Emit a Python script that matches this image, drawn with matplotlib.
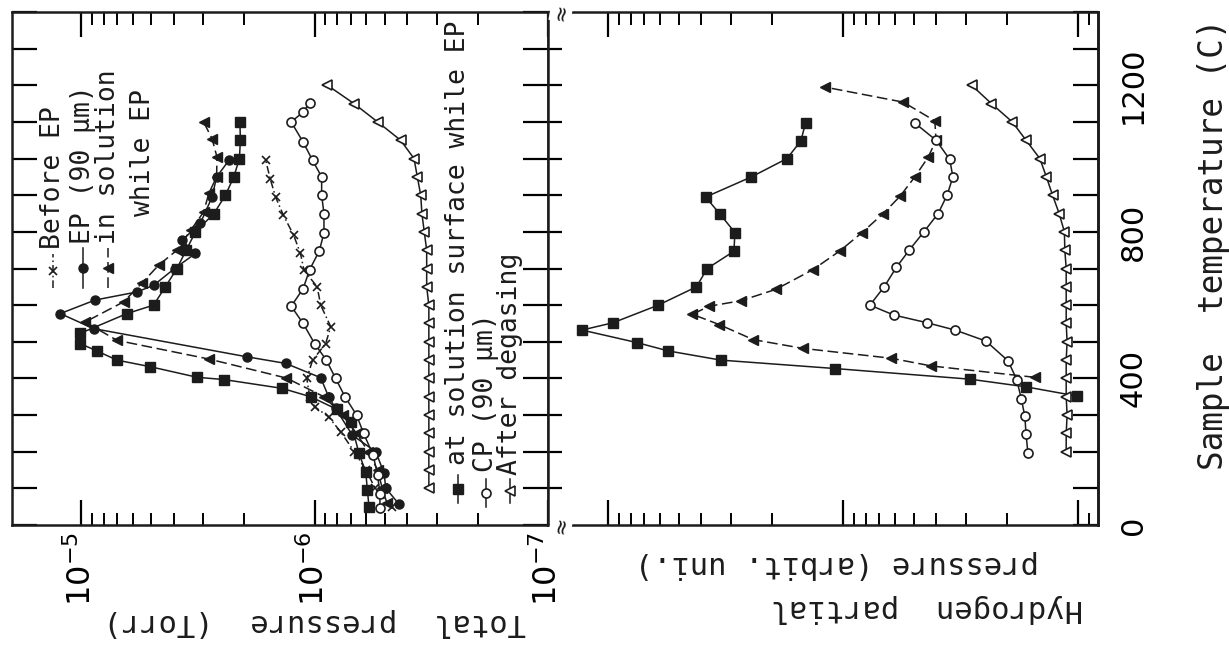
import matplotlib
matplotlib.use("Agg")
import matplotlib.pyplot as plt
from matplotlib.ticker import LogLocator, NullFormatter, FuncFormatter, MultipleLocator

# ---- data (temperature in C) ----
# left panel: total pressure (Torr)
before_t = [50, 100, 150, 200, 254, 295, 323, 350, 400, 450, 495, 541, 600, 650, 695, 741, 791, 845, 895, 945, 995]
before_p = [4.68e-7, 5.50e-7, 6.03e-7, 6.76e-7, 7.73e-7, 8.71e-7, 1.00e-6, 1.05e-6, 1.08e-6, 1.02e-6, 8.97e-7,
            8.53e-7, 9.42e-7, 9.75e-7, 1.11e-6, 1.15e-6, 1.23e-6, 1.36e-6, 1.47e-6, 1.55e-6, 1.62e-6]

ep_t = [57, 100, 143, 200, 245, 318, 350, 402, 441, 459, 536, 577, 614, 636, 654, 700, 741, 777, 823, 895, 950, 995]
ep_p = [4.35e-7, 4.95e-7, 5.05e-7, 5.47e-7, 6.89e-7, 8.13e-7, 8.71e-7, 9.42e-7, 1.33e-6, 1.95e-6, 8.85e-6,
        1.23e-5, 8.71e-6, 5.77e-6, 4.90e-6, 3.98e-6, 3.24e-6, 3.70e-6, 3.09e-6, 2.75e-6, 2.63e-6, 2.33e-6]

sol_t = [60, 100, 150, 200, 250, 300, 350, 401, 453, 504, 554, 609, 660, 709, 750, 804, 854, 905, 950, 1004, 1054, 1100]
sol_p = [4.90e-7, 5.13e-7, 5.37e-7, 5.89e-7, 6.61e-7, 7.59e-7, 9.12e-7, 1.32e-6, 2.84e-6, 7.03e-6, 9.62e-6,
         6.58e-6, 5.50e-6, 4.66e-6, 3.89e-6, 3.40e-6, 2.99e-6, 2.84e-6, 2.63e-6, 2.62e-6, 2.75e-6, 2.99e-6]

surf_t = [50, 95, 145, 196, 282, 316, 350, 373, 397, 403, 432, 450, 475, 495, 523, 577, 600, 650, 700, 750,
          800, 850, 900, 950, 1000, 1050, 1100]
surf_p = [5.85e-7, 5.94e-7, 6.04e-7, 6.46e-7, 7.00e-7, 8.05e-7, 1.04e-6, 1.38e-6, 2.45e-6, 3.18e-6, 5.06e-6,
          7.03e-6, 8.57e-6, 1.01e-5, 1.01e-5, 6.37e-6, 4.90e-6, 4.36e-6, 3.89e-6, 3.55e-6, 3.24e-6, 2.70e-6,
          2.41e-6, 2.22e-6, 2.10e-6, 2.08e-6, 2.09e-6]

cp_t = [46, 85, 136, 192, 250, 300, 350, 400, 450, 495, 550, 597, 645, 697, 748, 797, 850, 900, 950, 995,
        1045, 1100, 1127, 1152]
cp_p = [5.25e-7, 5.25e-7, 5.37e-7, 5.62e-7, 6.17e-7, 6.61e-7, 7.41e-7, 8.13e-7, 8.91e-7, 1.00e-6, 1.12e-6,
        1.26e-6, 1.12e-6, 1.05e-6, 9.55e-7, 9.12e-7, 9.12e-7, 9.33e-7, 9.33e-7, 1.02e-6, 1.12e-6, 1.26e-6,
        1.12e-6, 1.05e-6]

degas_t = [100, 150, 200, 250, 300, 350, 400, 450, 500, 550, 600, 650, 700, 750, 800, 850, 900, 950, 1000,
           1050, 1100, 1150, 1200]
degas_p = [3.24e-7, 3.24e-7, 3.24e-7, 3.24e-7, 3.24e-7, 3.24e-7, 3.24e-7, 3.24e-7, 3.24e-7, 3.24e-7, 3.24e-7,
           3.31e-7, 3.31e-7, 3.31e-7, 3.39e-7, 3.47e-7, 3.51e-7, 3.63e-7, 3.75e-7, 4.28e-7, 5.37e-7, 6.78e-7,
           8.81e-7]

# right panel: hydrogen partial pressure (arbitrary units)
h_surf_t = [352, 377, 398, 427, 450, 475, 498, 532, 552, 600, 650, 700, 747, 798, 848, 895, 950, 1000, 1048, 1098]
h_surf = [1.01, 1.66, 2.88, 10.8, 33.1, 55.3, 75.5, 129, 95.1, 61.1, 42.0, 37.8, 29.1, 28.8, 33.3, 38.4,
          24.5, 17.3, 15.1, 14.4]

h_sol_t = [403, 434, 455, 482, 506, 547, 575, 597, 612, 643, 697, 748, 797, 850, 897, 950, 1003, 1050, 1103,
           1154, 1195]
h_sol = [1.52, 4.20, 6.21, 14.8, 24.1, 33.6, 43.7, 37.1, 27.2, 19.3, 13.4, 10.3, 8.32, 6.73, 5.71, 4.94,
         4.34, 4.01, 4.06, 5.53, 11.9]

h_cp_t = [196, 248, 297, 345, 397, 448, 502, 532, 552, 573, 600, 650, 703, 750, 800, 850, 900, 950, 998,
          1050, 1097]
h_cp = [1.63, 1.66, 1.68, 1.74, 1.82, 1.98, 2.46, 3.33, 4.38, 6.07, 7.67, 6.67, 5.92, 5.22, 4.52, 3.93,
        3.60, 3.40, 3.51, 4.01, 4.94]

h_degas_t = [200, 250, 300, 350, 400, 450, 500, 550, 600, 650, 700, 750, 800, 850, 900, 950, 1000, 1050,
             1100, 1150, 1200]
h_degas = [1.12, 1.12, 1.11, 1.12, 1.12, 1.12, 1.11, 1.12, 1.12, 1.12, 1.12, 1.135, 1.14, 1.20, 1.28, 1.36,
           1.45, 1.66, 1.90, 2.33, 2.83]

temp_labels = [0, 400, 800, 1200]

# ---- styles ----
ink = "#1c1c1c"
mono = "DejaVu Sans Mono"
st_before = dict(marker="x", ms=6, mew=1.2, mfc="none", ls=(0, (5, 2, 1, 2)))
st_ep = dict(marker="o", ms=6.5, mfc=ink, ls="-")
st_sol = dict(marker="<", ms=7, mfc=ink, ls=(0, (7, 3)))
st_surf = dict(marker="s", ms=6.5, mfc=ink, ls="-")
st_cp = dict(marker="o", ms=6.5, mfc="white", mew=1.2, ls="-")
st_degas = dict(marker="<", ms=7.5, mfc="white", mew=1.2, ls="-")

plt.rcParams.update({"font.family": "DejaVu Sans", "font.size": 19})

W, H = 1229, 650
fig = plt.figure(figsize=(W / 100, H / 100), dpi=100)
ax1 = fig.add_axes([12 / W, 125 / H, 536 / W, 513 / H])
ax2 = fig.add_axes([548 / W, 125 / H, 550 / W, 513 / H])

lw = 1.1
for t, p, st in [(before_t, before_p, st_before), (ep_t, ep_p, st_ep), (sol_t, sol_p, st_sol),
                 (surf_t, surf_p, st_surf), (cp_t, cp_p, st_cp), (degas_t, degas_p, st_degas)]:
    ax1.plot(p, t, color=ink, mec=ink, lw=lw, **st)

for t, p, st in [(h_surf_t, h_surf, st_surf), (h_sol_t, h_sol, st_sol),
                 (h_cp_t, h_cp, st_cp), (h_degas_t, h_degas, st_degas)]:
    ax2.plot(p, t, color=ink, mec=ink, lw=lw, **st)

# axes setup
for ax in (ax1, ax2):
    ax.set_xscale("log")
    ax.set_ylim(0, 1400)
    ax.yaxis.set_major_locator(MultipleLocator(100))
    ax.xaxis.set_major_locator(LogLocator(base=10))
    ax.xaxis.set_minor_locator(LogLocator(base=10, subs=range(2, 10)))
    ax.xaxis.set_minor_formatter(NullFormatter())
    ax.tick_params(axis="x", which="major", direction="in", top=True, bottom=True, length=18, width=1.6)
    ax.tick_params(axis="x", which="minor", direction="in", top=True, bottom=True, length=9, width=1.4)
    for s in ax.spines.values():
        s.set_linewidth(1.8)
        s.set_color(ink)

ax1.set_xlim(1.98e-5, 1e-7)
ax2.set_xlim(180, 0.82)

ax1.tick_params(axis="y", direction="in", left=True, right=True, length=18, width=1.6,
                labelleft=False)
ax1.tick_params(axis="x", which="major", labelrotation=90, labelsize=23, pad=5)

ax2.xaxis.set_major_formatter(NullFormatter())
ax2.tick_params(axis="y", direction="in", left=True, right=False, length=10, width=1.6,
                labelleft=False)

sec = ax2.secondary_yaxis("right")
sec.yaxis.set_major_locator(MultipleLocator(100))
sec.yaxis.set_major_formatter(FuncFormatter(lambda v, p: f"{v:.0f}" if round(v) in temp_labels else ""))
sec.tick_params(direction="in", length=18, width=1.6, labelsize=22, labelrotation=90, pad=15)
sec.spines["right"].set_linewidth(1.8)
plt.setp(sec.get_yticklabels(), va="center")

# axis titles (rotated like the scanned figure)
fig.text(315 / W, 1 - 622 / H, "Total  pressure  (Torr)", rotation=180, ha="center", va="center",
         fontsize=22, color=ink, family=mono)
fig.text(927 / W, 1 - 609 / H, "Hydrogen  partial", rotation=180, ha="center", va="center",
         fontsize=22, color=ink, family=mono)
fig.text(837 / W, 1 - 565 / H, "pressure (arbit. uni.)", rotation=180, ha="center", va="center",
         fontsize=22, color=ink, family=mono)
fig.text(1213 / W, 1 - 470 / H, "Sample  temperature (C)", rotation=90, ha="center", va="bottom",
         fontsize=23.5, color=ink, family=mono)

# axis-break marks at the panel junction
for yb in (12, 525):
    fig.text(561 / W, 1 - yb / H, "≈", rotation=80, ha="center", va="center", fontsize=15,
             color=ink, bbox=dict(boxstyle="square,pad=0.05", fc="white", ec="none"))


# hand-drawn legends (vertical, as in the figure)
def px(x, y):
    return (x - 12) / 536, (525 - y) / 513


def legend_row(xc, y_lo, y_hi, st, label, y_text):
    x0, y0 = px(xc, y_lo)
    _, y1 = px(xc, y_hi)
    if st is not None:
        ax1.plot([x0, x0], [y0, y1], transform=ax1.transAxes, color=ink, lw=lw,
                 ls=st["ls"], clip_on=False)
        kw = {k: v for k, v in st.items() if k != "ls"}
        ax1.plot([x0], [(y0 + y1) / 2], transform=ax1.transAxes, color=ink, mec=ink, ls="none",
                 clip_on=False, **kw)
    _, yt = px(xc, y_text)
    ax1.text(x0, yt, label, rotation=90, ha="center", va="bottom", transform=ax1.transAxes,
             fontsize=19, color=ink, family=mono)


legend_row(53, 288, 254, st_before, "Before EP", 249)
legend_row(83, 288, 248, st_ep, "EP (90 μm)", 244)
legend_row(108, 288, 248, st_sol, "in solution", 244)
legend_row(143, 0, 0, None, "while EP", 216)

legend_row(458, 503, 475, st_surf, "at solution surface while EP", 465)
legend_row(486, 507, 479, st_cp, "CP (90 μm)", 472)
legend_row(510, 503, 479, st_degas, "After degasing", 475)

fig.savefig("out.png", dpi=100, facecolor="white")
